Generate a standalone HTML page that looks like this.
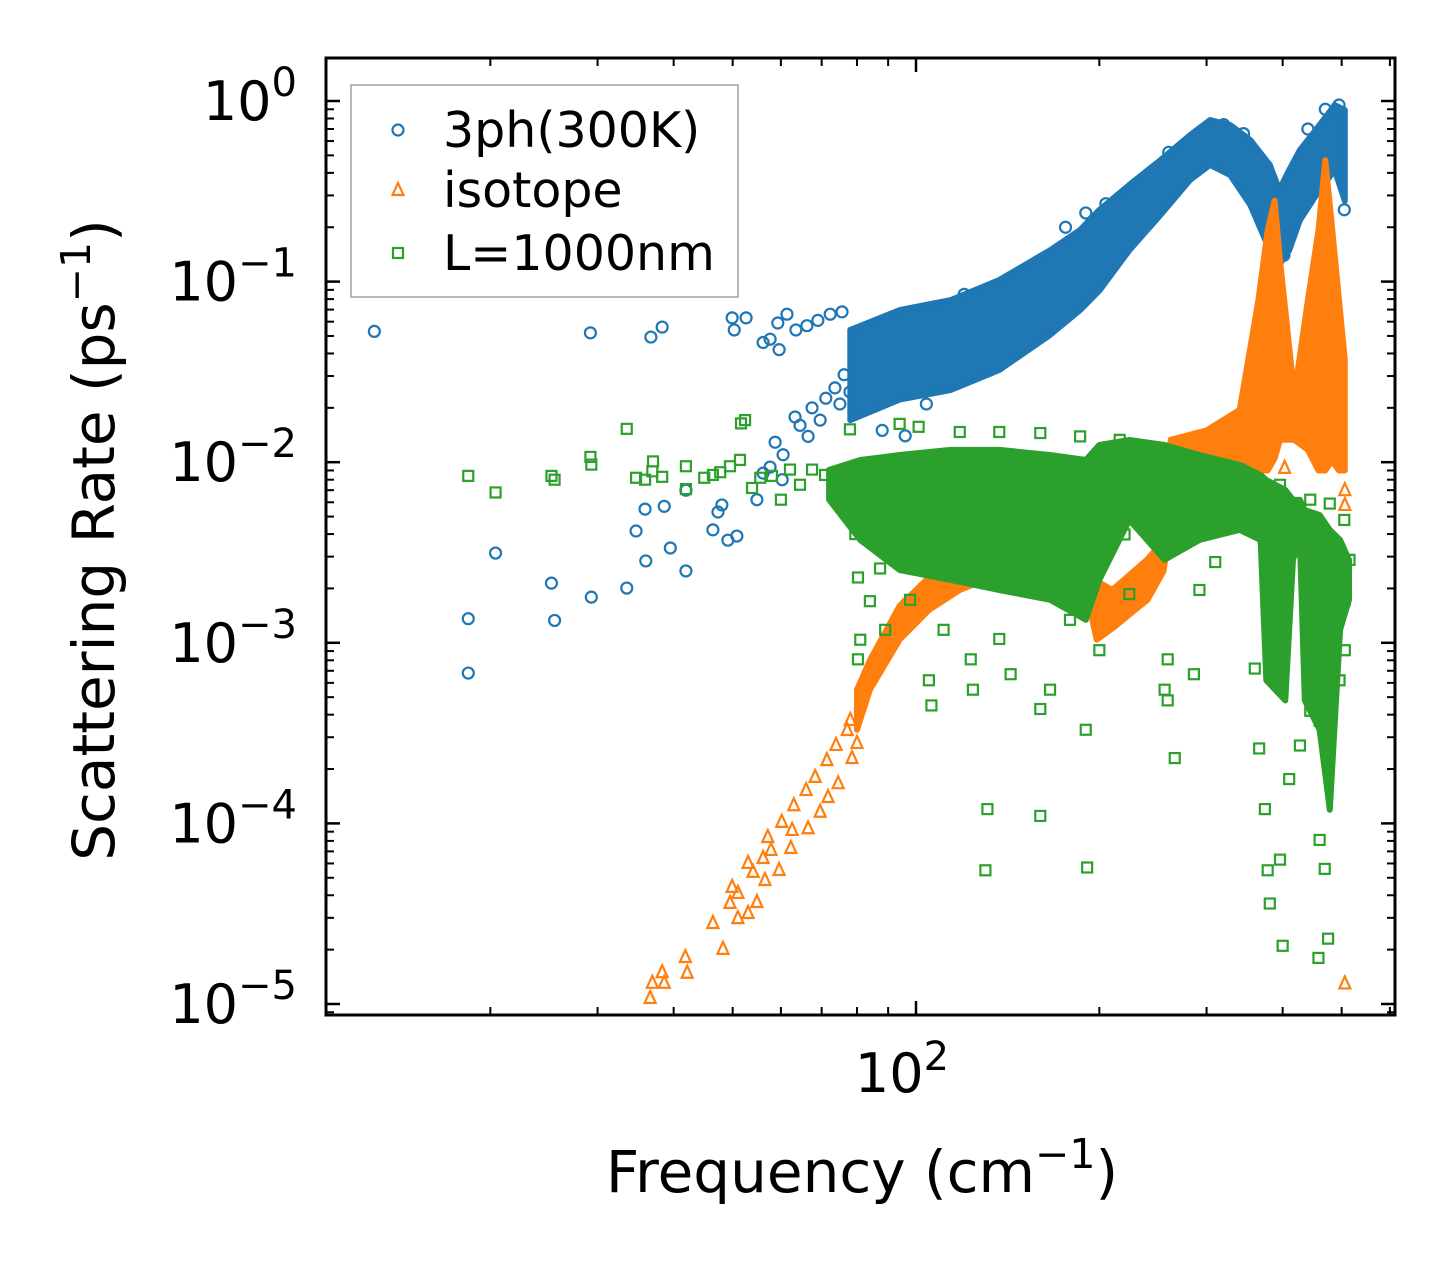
<!DOCTYPE html>
<html><head><meta charset="utf-8"><style>
html,body{margin:0;padding:0;background:#fff;}
svg{display:block;font-family:"DejaVu Sans","Liberation Sans",sans-serif;}
</style></head><body>
<svg id="chart" width="1455" height="1265" viewBox="0 0 1455 1265" xmlns="http://www.w3.org/2000/svg">
<rect width="1455" height="1265" fill="#fff"/>
<g id="marks"></g>
<g id="axes"></g>
</svg>
<script>
// ---- data (frequency cm^-1, scattering rate ps^-1) ----
const blueBandF  = [78,94,114,137,166,186,200,224,252,282,304,328,354,381,395,410,427,460,487,506];
const blueBandLo = [0.0171,0.0222,0.0251,0.0324,0.0506,0.0695,0.089,0.149,0.234,0.366,0.443,0.389,0.266,0.149,0.124,0.149,0.219,0.322,0.415,0.28];
const blueBandHi = [0.054,0.0695,0.079,0.102,0.149,0.193,0.249,0.343,0.471,0.648,0.785,0.736,0.608,0.443,0.322,0.415,0.535,0.736,0.95,0.89];
const bluePts = [[12.9,0.053],[18.4,0.00136],[18.4,0.00068],[20.4,0.00314],[25.2,0.00214],[25.5,0.00133],[29.2,0.052],[29.3,0.00179],[33.5,0.00201],[34.7,0.00416],[35.9,0.0055],[36.7,0.0493],[38.3,0.056],[36.0,0.00284],[39.5,0.00335],[38.6,0.0057],[41.9,0.0025],[41.9,0.007],[46.4,0.00422],[47.3,0.0053],[48.0,0.0058],[49.1,0.0037],[50.8,0.0039],[49.9,0.063],[52.6,0.063],[50.3,0.054],[56.1,0.046],[57.6,0.048],[59.3,0.059],[59.6,0.042],[61.4,0.066],[63.5,0.054],[66.2,0.057],[69.0,0.061],[72.3,0.066],[75.6,0.068],[57.6,0.0094],[60.5,0.011],[60.3,0.008],[63.3,0.0178],[64.5,0.016],[66.5,0.0139],[67.5,0.02],[69.6,0.0171],[71.1,0.0226],[73.6,0.0258],[75.0,0.021],[76.2,0.0305],[77.9,0.0245],[54.8,0.0062],[56.1,0.0087],[58.7,0.0129],[80,0.045],[85,0.038],[90,0.055],[88,0.015],[96,0.014],[104,0.021],[120,0.085],[130,0.09],[150,0.11],[176,0.2],[190,0.24],[205,0.27],[230,0.3],[260,0.52],[300,0.68],[320,0.74],[345,0.66],[365,0.33],[380,0.12],[390,0.11],[402,0.14],[415,0.27],[470,0.9],[495,0.95],[505,0.25],[440,0.7]];
const orangeBandF  = [80,84,94,105,118,137,155,175,190,198,210,240,255,262,300,340,365,378,388,396,418,440,458,470,482,495,506];
const orangeBandLo = [3.3e-4,5.5e-4,1.04e-3,1.52e-3,1.96e-3,2.4e-3,3.06e-3,2.9e-3,1.96e-3,1.04e-3,1.2e-3,1.73e-3,2.5e-3,4.8e-3,9.1e-3,0.0102,0.009,0.009,0.0105,0.0133,0.0133,0.0117,0.009,0.009,0.0102,0.009,0.009];
const orangeBandHi = [5.5e-4,8.0e-4,1.6e-3,2.3e-3,3.4e-3,4.5e-3,8e-3,8e-3,4.8e-3,2.2e-3,1.96e-3,2.9e-3,3.7e-3,0.0133,0.015,0.0195,0.079,0.193,0.28,0.131,0.0235,0.079,0.193,0.47,0.2,0.079,0.037];
const orangePts = [[36.6,1.08e-5],[36.9,1.31e-5],[38.3,1.5e-5],[38.6,1.31e-5],[41.8,1.82e-5],[42.1,1.49e-5],[46.4,2.81e-5],[48.2,2.02e-5],[49.9,4.45e-5],[51.0,4.12e-5],[49.5,3.63e-5],[51.0,2.99e-5],[53.0,3.19e-5],[54.8,3.67e-5],[53.0,6.04e-5],[54.0,5.39e-5],[56.1,6.43e-5],[56.5,4.86e-5],[57.8,7.13e-5],[57.1,8.41e-5],[59.6,5.52e-5],[60.2,1.02e-4],[62.3,7.31e-5],[62.6,9.2e-5],[63.0,1.26e-4],[66.5,9.4e-5],[66.0,1.53e-4],[68.3,1.81e-4],[69.6,1.16e-4],[71.7,1.4e-4],[71.4,2.24e-4],[74.5,1.67e-4],[73.9,2.72e-4],[77.1,3.29e-4],[78.5,2.3e-4],[80.0,2.79e-4],[78.0,3.74e-4],[506,1.3e-5],[506,0.0058],[506,0.007],[403,0.0093]];
const greenBandF  = [72,81,94,114,137,166,190,200,224,256,292,340,368,376,404,416,427,435,460,478,497,514];
const greenBandLo = [0.0062,0.00371,0.00253,0.00223,0.00196,0.00173,0.00134,0.00223,0.00479,0.00288,0.00371,0.00422,0.00371,6.2e-4,4.8e-4,0.00288,0.00371,4.8e-4,3.3e-4,1.19e-4,0.00118,0.00173];
const greenBandHi = [0.00906,0.01028,0.01096,0.0117,0.0117,0.01096,0.01028,0.01245,0.01327,0.01245,0.01096,0.00966,0.0085,0.00797,0.00702,0.00618,0.00618,0.00543,0.0051,0.00422,0.00371,0.00288];
const greenPts = [[18.4,0.0084],[20.4,0.0068],[25.2,0.0084],[25.5,0.008],[29.2,0.0107],[29.3,0.0097],[33.5,0.0153],[34.7,0.0082],[35.9,0.008],[36.9,0.0089],[38.3,0.0083],[37,0.0101],[41.9,0.0071],[41.9,0.0095],[44.9,0.0082],[46.4,0.0085],[47.7,0.0088],[49.5,0.0095],[51.4,0.0103],[51.6,0.0164],[52.4,0.0171],[53.8,0.0072],[55.5,0.0082],[58,0.0084],[60,0.0062],[62.1,0.0091],[64.5,0.0075],[67.5,0.0091],[70.9,0.0085],[73.6,0.0078],[77.9,0.0152],[81,0.0053],[79.5,0.004],[80.3,0.0023],[80.3,0.00081],[81,0.00104],[84,0.0017],[87.3,0.00258],[89,0.00118],[97.8,0.00173],[105,6.2e-4],[106,4.5e-4],[111,0.00118],[118,0.00288],[123,8.1e-4],[124,5.5e-4],[130,5.5e-5],[131,1.2e-4],[137,0.00105],[143,6.7e-4],[160,4.3e-4],[160,1.1e-4],[166,5.5e-4],[179,0.00134],[190,3.3e-4],[191,5.7e-5],[200,9.1e-4],[220,0.00398],[224,0.00186],[237,0.0091],[256,5.5e-4],[259,8.1e-4],[266,2.3e-4],[259,4.8e-4],[286,6.7e-4],[292,0.00196],[310,0.0028],[360,7.2e-4],[366,2.6e-4],[374,1.2e-4],[378,5.5e-5],[381,3.6e-5],[400,2.1e-5],[396,6.3e-5],[410,1.76e-4],[427,2.7e-4],[444,4.2e-4],[460,8.1e-5],[469,5.6e-5],[458,1.8e-5],[475,2.3e-5],[460,3.7e-4],[496,6.2e-4],[506,9.1e-4],[506,0.00173],[505,0.00479],[478,0.0059],[515,0.00288],[94,0.0163],[101,0.0157],[118,0.0147],[137,0.0147],[160,0.0145],[186,0.0139],[216,0.0133],[252,0.0117],[292,0.0103],[340,0.0091],[396,0.0075],[444,0.0062],[150,0.0045],[170,0.0031],[185,0.0026],[205,0.0057],[230,0.0062]];
const xMajor = [100];
const xMinor = [20,30,40,50,60,70,80,90,200,300,400,500,600];
const yMajorExp = [0,-1,-2,-3,-4,-5];

// ---- axis functions ----
const L=326,R=1395,T=58,B=1015;
function X(f){return 916+609*(Math.log10(f)-2);}
function Y(r){return 101-180.6*Math.log10(r);}
const NS="http://www.w3.org/2000/svg";
const marks=document.getElementById('marks');
const axes=document.getElementById('axes');
function mk(tag,attrs,parent){const e=document.createElementNS(NS,tag);for(const k in attrs)e.setAttribute(k,attrs[k]);parent.appendChild(e);return e;}

const defs=mk('defs',{},marks);
const cp=mk('clipPath',{id:'clip'},defs);
mk('rect',{x:L,y:T,width:R-L,height:B-T},cp);
const plot=mk('g',{'clip-path':'url(#clip)'},marks);

function band(F,Lo,Hi,color,name){
  let pts=[];
  for(let i=0;i<F.length;i++)pts.push(X(F[i]).toFixed(1)+','+Y(Hi[i]).toFixed(1));
  for(let i=F.length-1;i>=0;i--)pts.push(X(F[i]).toFixed(1)+','+Y(Lo[i]).toFixed(1));
  const p=mk('polygon',{points:pts.join(' '),fill:color,stroke:color,'stroke-width':6,'stroke-linejoin':'round'},plot);
  
  
}
function circle(x,y,c,g){return mk('circle',{cx:x,cy:y,r:5.5,fill:'none',stroke:c,'stroke-width':2.2},g);}
function tri(x,y,c,g){return mk('polygon',{points:`${x},${y-7} ${x-5.5},${y+5} ${x+5.5},${y+5}`,fill:'none',stroke:c,'stroke-width':2.2},g);}
function sq(x,y,c,g){return mk('rect',{x:x-5,y:y-5,width:10,height:10,fill:'none',stroke:c,'stroke-width':2.2},g);}

const C1='#1f77b4',C2='#ff7f0e',C3='#2ca02c';
const gB=mk('g',{},plot);
band(blueBandF,blueBandLo,blueBandHi,C1,'3ph-dense-band');
bluePts.forEach(p=>{const e=circle(X(p[0]),Y(p[1]),C1,gB);

});
const gO=mk('g',{},plot);
band(orangeBandF,orangeBandLo,orangeBandHi,C2,'isotope-dense-band');
orangePts.forEach(p=>{const e=tri(X(p[0]),Y(p[1]),C2,gO);

});
const gG=mk('g',{},plot);
band(greenBandF,greenBandLo,greenBandHi,C3,'boundary-dense-band');
greenPts.forEach(p=>{const e=sq(X(p[0]),Y(p[1]),C3,gG);

});

// ---- ticks ----
function line(x1,y1,x2,y2,w,name){const e=mk('line',{x1,y1,x2,y2,stroke:'#000','stroke-width':w},axes);

return e;}
xMajor.forEach(v=>{const x=X(v);line(x,B,x,B-14,2.5,'x-major-tick');line(x,T,x,T+14,2.5,'x-major-tick-top');
 const t=mk('text',{x:x-14,y:1092,'font-size':54,'text-anchor':'middle'},axes);
 t.textContent='10';const s=mk('tspan',{dy:-22,'font-size':40},t);s.textContent='2';
 
 });
xMinor.forEach(v=>{const x=X(v);if(x>L+2&&x<R-2){line(x,B,x,B-8,2,'x-minor-tick');line(x,T,x,T+8,2,'x-minor-tick-top');}});
yMajorExp.forEach(k=>{const y=Y(Math.pow(10,k));line(L,y,L+14,y,2.5,'y-major-tick');line(R,y,R-14,y,2.5,'y-major-tick-right');
 const t=mk('text',{x:297,y:y+19,'font-size':54,'text-anchor':'end'},axes);
 t.appendChild(document.createTextNode('10'));
 const s=mk('tspan',{dy:-24,'font-size':40},t);s.textContent=(k<0?'\u2212'+(-k):'0');
 
 
 for(let m=2;m<=9;m++){const yy=Y(m*Math.pow(10,k));if(yy>T+2&&yy<B-2){line(L,yy,L+8,yy,2,'y-minor-tick');line(R,yy,R-8,yy,2,'y-minor-tick-right');}}
 if(k===-5){for(let m=9;m>=2;m--){const yy=Y(m*Math.pow(10,k-1));if(yy>T+2&&yy<B-2){line(L,yy,L+8,yy,2,'y-minor-tick');line(R,yy,R-8,yy,2,'y-minor-tick-right');}}}
});
const fr=mk('rect',{x:L,y:T,width:R-L,height:B-T,fill:'none',stroke:'#000','stroke-width':3},axes);



// ---- titles ----
const xt=mk('text',{x:862,y:1192,'font-size':58,'text-anchor':'middle'},axes);
xt.appendChild(document.createTextNode('Frequency (cm'));
const xs=mk('tspan',{dy:-24,'font-size':41},xt);xs.textContent='\u22121';
const xe=mk('tspan',{dy:24},xt);xe.textContent=')';


const yt=mk('text',{x:0,y:0,'font-size':58,'text-anchor':'middle',transform:'translate(114,540) rotate(-90)'},axes);
yt.appendChild(document.createTextNode('Scattering Rate (ps'));
const ys=mk('tspan',{dy:-24,'font-size':41},yt);ys.textContent='\u22121';
const ye=mk('tspan',{dy:24},yt);ye.textContent=')';



// ---- legend ----
const lg=mk('g',{},axes);


mk('rect',{x:351,y:85,width:387,height:212,fill:'#fff','fill-opacity':0.8,stroke:'#a0a0a0','stroke-width':1.5},lg);
const entries=[['3ph(300K)',C1,circle,130],['isotope',C2,tri,190],['L=1000nm',C3,sq,253]];
entries.forEach(en=>{const g=mk('g',{},lg);
 
 
 en[2](398,en[3],en[1],g);
 const t=mk('text',{x:443,y:en[3]+17,'font-size':49},g);t.textContent=en[0];});
</script>
</body></html>
